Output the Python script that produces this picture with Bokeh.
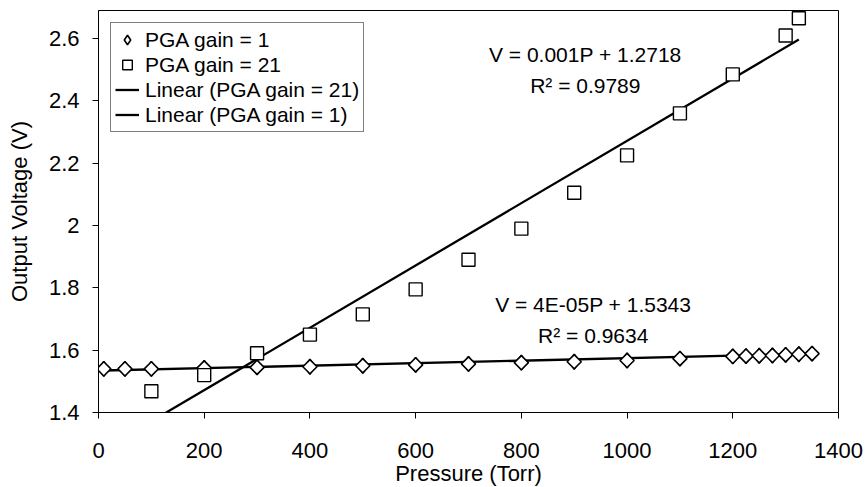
import math
from bokeh.plotting import figure
from bokeh.models import Range1d, FixedTicker, CustomJSTickFormatter, Legend, LegendItem, Label
from bokeh.embed import file_html
from bokeh.resources import INLINE

# Data
p_gain1 = [10, 50, 100, 200, 300, 400, 500, 600, 700, 800, 900, 1000, 1100,
           1200, 1225, 1250, 1275, 1300, 1325, 1350]
v_gain1 = [1.540, 1.540, 1.540, 1.543, 1.545, 1.547, 1.550, 1.553, 1.556, 1.560,
           1.563, 1.567, 1.573, 1.580, 1.581, 1.582, 1.583, 1.585, 1.587, 1.589]

p_gain21 = [100, 200, 300, 400, 500, 600, 700, 800, 900, 1000, 1100, 1200, 1300, 1325]
v_gain21 = [1.468, 1.520, 1.590, 1.650, 1.715, 1.795, 1.890, 1.990, 2.105, 2.225,
            2.360, 2.485, 2.610, 2.665]

# Trend line coefficients (slope, intercept)
fit21 = (0.001, 1.2718)
fit1 = (4e-05, 1.5343)

eq21 = ["V = 0.001P + 1.2718", "R² = 0.9789"]
eq1 = ["V = 4E-05P + 1.5343", "R² = 0.9634"]

x_ticks = [0, 200, 400, 600, 800, 1000, 1200, 1400]
y_ticks = [1.4, 1.6, 1.8, 2.0, 2.2, 2.4, 2.6]

FONT = "Liberation Sans"

p = figure(width=868, height=487, output_backend="svg", toolbar_location=None,
           x_range=Range1d(0, 1400), y_range=Range1d(1.4, 2.69),
           min_border_left=98, min_border_right=30, min_border_top=10, min_border_bottom=75)
p.frame_width = 740
p.frame_height = 402

p.xgrid.visible = False
p.ygrid.visible = False
p.outline_line_color = "black"
p.outline_line_width = 1
p.background_fill_color = "white"
p.border_fill_color = "white"

# trend lines
x21 = [min(p_gain21), max(p_gain21)]
y21 = [fit21[0] * x + fit21[1] for x in x21]
x1 = [min(p_gain1), max(p_gain1)]
y1 = [fit1[0] * x + fit1[1] for x in x1]

r_lin21 = p.line(x21, y21, line_color="black", line_width=2.3)
r_lin1 = p.line(x1, y1, line_color="black", line_width=2.3)

# diamond-marker renderer of the same data (used for the legend glyph; covered below)
r_d_leg = p.scatter(p_gain1, v_gain1, marker="diamond", size=15, fill_color="white",
                    line_color="black", line_width=1.6)
# rhombus markers as drawn in the chart
r_d = p.scatter(p_gain1, v_gain1, marker="square", angle=math.pi / 4, size=10,
                fill_color="white", line_color="black", line_width=1.6)
r_s = p.scatter(p_gain21, v_gain21, marker="square", size=13, fill_color="white",
                line_color="black", line_width=1.4)

# Axes
for ax in (p.xaxis[0], p.yaxis[0]):
    ax.major_label_text_font = FONT
    ax.major_label_text_font_size = "22px"
    ax.major_label_text_color = "black"
    ax.axis_label_text_font = FONT
    ax.axis_label_text_font_size = "22px"
    ax.axis_label_text_font_style = "normal"
    ax.axis_label_text_color = "black"
    ax.axis_line_color = "black"
    ax.major_tick_line_color = "black"
    ax.major_tick_out = 6
    ax.major_tick_in = 0
    ax.minor_tick_line_color = None

p.xaxis.ticker = FixedTicker(ticks=x_ticks)
p.yaxis.ticker = FixedTicker(ticks=y_ticks)
p.yaxis.formatter = CustomJSTickFormatter(code="return Number(tick.toFixed(1)).toString();")
p.xaxis.axis_label = "Pressure (Torr)"
p.yaxis.axis_label = "Output Voltage (V)"
p.xaxis.major_label_standoff = 24
p.xaxis.axis_label_standoff = 0
p.yaxis.major_label_standoff = 13
p.yaxis.axis_label_standoff = 14

# Equation labels
for txt, yy in zip(eq21, [2.549, 2.449]):
    p.add_layout(Label(x=921, y=yy, text=txt, text_align="center", text_baseline="middle",
                       text_font=FONT, text_font_size="21px", text_color="black"))
for txt, yy in zip(eq1, [1.7465, 1.647]):
    p.add_layout(Label(x=936, y=yy, text=txt, text_align="center", text_baseline="middle",
                       text_font=FONT, text_font_size="21px", text_color="black"))

legend = Legend(items=[
    LegendItem(label="PGA gain = 1", renderers=[r_d_leg]),
    LegendItem(label="PGA gain = 21", renderers=[r_s]),
    LegendItem(label="Linear (PGA gain = 21)", renderers=[r_lin21]),
    LegendItem(label="Linear (PGA gain = 1)", renderers=[r_lin1]),
], location="top_left")
legend.margin = 12
legend.padding = 4
legend.spacing = 0
legend.label_text_font = FONT
legend.label_text_font_size = "21px"
legend.label_text_color = "black"
legend.label_height = 25
legend.glyph_height = 25
legend.glyph_width = 24
legend.label_standoff = 6
legend.border_line_color = "black"
legend.border_line_width = 1
legend.background_fill_color = "white"
legend.background_fill_alpha = 1
p.add_layout(legend)

open("out.html", "w").write(file_html(p, INLINE))
